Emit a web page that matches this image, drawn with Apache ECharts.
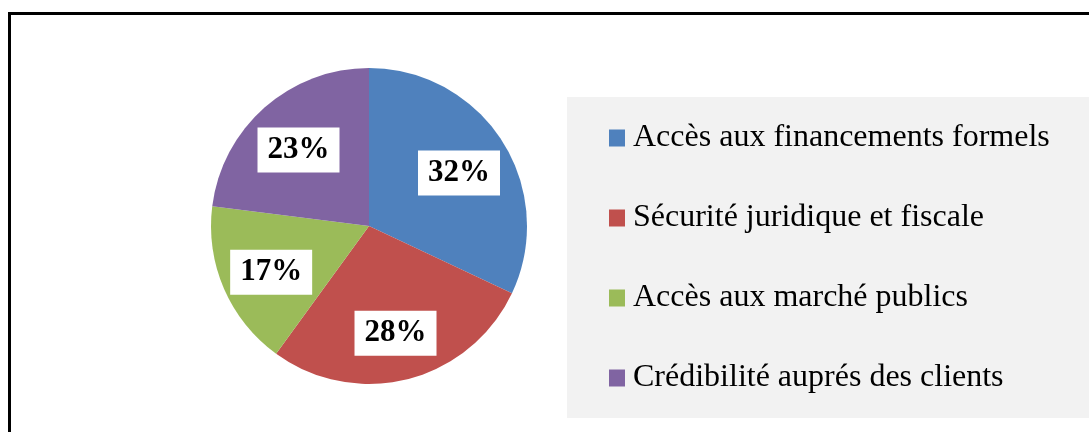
<!DOCTYPE html>
<html>
<head>
<meta charset="utf-8">
<script src="https://cdn.jsdelivr.net/npm/echarts@6/dist/echarts.min.js"></script>
<style>
  html, body { margin: 0; padding: 0; background: #fff; }
  #main { width: 1089px; height: 432px; }
</style>
</head>
<body>
<div id="main"></div>
<script>
const categories = [
  "Accès aux financements formels",
  "Sécurité juridique et fiscale",
  "Accès aux marché publics",
  "Crédibilité auprés des clients",
];
const shares = [32, 28, 17, 23];
const sliceColors = ["#4f81bd", "#c0504d", "#9bbb59", "#8064a2"];

const serif = "'Times New Roman', 'Liberation Serif', serif";
const pieCenter = [369, 226];

const chart = echarts.init(document.getElementById("main"));

const option = {
  animation: false,
  color: sliceColors,
  graphic: [
    {
      type: "rect",
      shape: { x: 9.5, y: 13.5, width: 1200, height: 600 },
      style: { fill: "transparent", stroke: "#000", lineWidth: 3 },
      z: 100,
    },
  ],
  legend: {
    orient: "vertical",
    left: 567,
    top: 97,
    backgroundColor: "#f2f2f2",
    padding: [25, 80, 24, 42],
    itemGap: 48,
    itemWidth: 16,
    itemHeight: 17,
    icon: "rect",
    textStyle: {
      fontFamily: serif,
      fontSize: 32,
      lineHeight: 32,
      color: "#000",
      padding: [0, 0, 0, 3],
    },
    data: categories,
  },
  series: [
    {
      type: "pie",
      center: pieCenter,
      radius: [0, 158],
      startAngle: 90,
      clockwise: true,
      itemStyle: { borderWidth: 0 },
      label: {
        show: true,
        position: "inside",
        formatter: "{c}%",
        fontFamily: serif,
        fontSize: 31,
        fontWeight: "bold",
        color: "#000",
        backgroundColor: "#fff",
        padding: [8, 10, 6, 10],
      },
      labelLine: { show: false },
      // push labels outward from the mid radius, like the original
      labelLayout: (params) => {
        const r = params.labelRect;
        const lx = r.x + r.width / 2;
        const ly = r.y + r.height / 2;
        const k = 1.3;
        return {
          x: pieCenter[0] + (lx - pieCenter[0]) * k,
          y: pieCenter[1] + (ly - pieCenter[1]) * k + 4,
        };
      },
      emphasis: { disabled: true },
      data: categories.map((name, i) => ({ name, value: shares[i] })),
    },
  ],
};

chart.setOption(option);
</script>
</body>
</html>
